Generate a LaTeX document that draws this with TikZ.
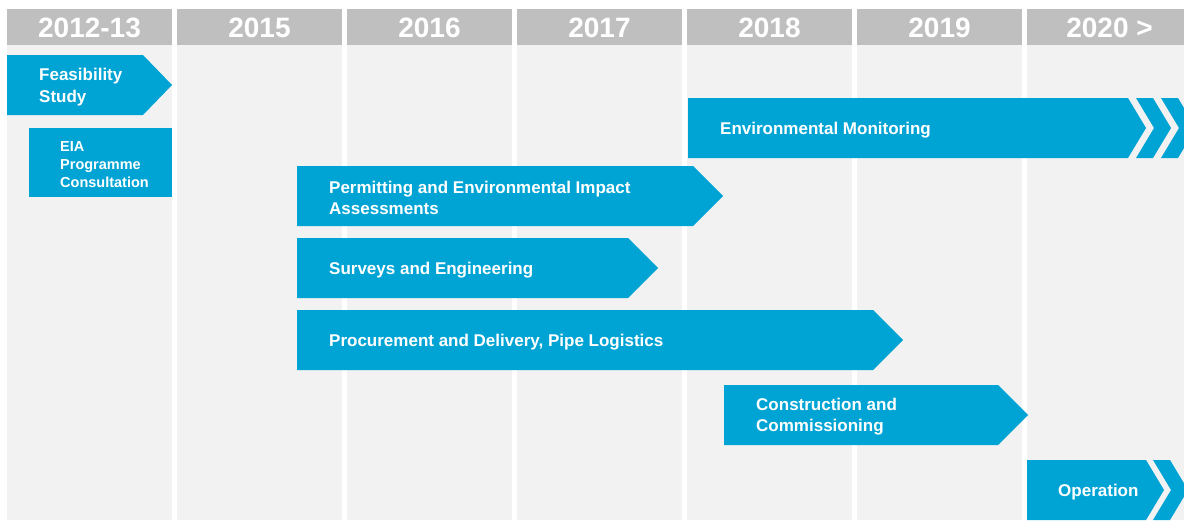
\documentclass[tikz,border=0pt]{standalone}
\usepackage{fontspec}
\setmainfont{Liberation Sans}
\definecolor{barblue}{RGB}{0,164,212}
\definecolor{hdrgray}{RGB}{191,191,191}
\definecolor{colgray}{RGB}{242,242,242}
\begin{document}
\begin{tikzpicture}[x=1pt,y=-1pt,
  bar/.style={fill=barblue,draw=none},
  bartext/.style={text=white,font=\bfseries\fontsize{17}{21}\selectfont,anchor=west,align=left,inner sep=0pt},
  smalltext/.style={bartext,font=\bfseries\fontsize{14.5}{18}\selectfont},
  bigtext/.style={bartext,font=\bfseries\fontsize{17}{22}\selectfont},
  hdr/.style={text=white,font=\bfseries\fontsize{28}{28}\selectfont,inner sep=0pt}]
\useasboundingbox (0,0) rectangle (1184,520);
\begin{scope}
\clip (0,0) rectangle (1184,520);
\fill[white] (0,0) rectangle (1184,520);
\foreach \i/\lab in {0/2012-13,1/2015,2/2016,3/2017,4/2018,5/2019,6/{2020 >}} {
  \fill[colgray] (7+170*\i,45) rectangle (172+170*\i,520);
  \fill[hdrgray] (7+170*\i,9) rectangle (172+170*\i,45);
  \node[hdr] (h\i) at (89.5+170*\i,28) {\lab};
}
% bars
\fill[bar] (7,55) -- (143,55) -- (172,85) -- (143,115) -- (7,115) -- cycle;
\fill[bar] (29,128) rectangle (172,197);
\fill[bar] (688,98) -- (1128,98) -- (1146,128) -- (1128,158) -- (688,158) -- cycle;
\fill[bar] (1136,98) -- (1153,98) -- (1171,128) -- (1153,158) -- (1136,158) -- (1154,128) -- cycle;
\fill[bar] (1161,98) -- (1178,98) -- (1196,128) -- (1178,158) -- (1161,158) -- (1179,128) -- cycle;
\fill[bar] (297,166) -- (693,166) -- (723,196) -- (693,226) -- (297,226) -- cycle;
\fill[bar] (297,238) -- (628,238) -- (658,268) -- (628,298) -- (297,298) -- cycle;
\fill[bar] (297,310) -- (873,310) -- (903,340) -- (873,370) -- (297,370) -- cycle;
\fill[bar] (724,385) -- (998,385) -- (1028,415) -- (998,445) -- (724,445) -- cycle;
\fill[bar] (1027,460) -- (1146,460) -- (1164,490) -- (1146,520) -- (1027,520) -- cycle;
\fill[bar] (1153,460) -- (1170,460) -- (1188,490) -- (1170,520) -- (1153,520) -- (1171,490) -- cycle;
\end{scope}
% texts
\node[bigtext] (feas) at (39,87.5) {Feasibility\\Study};
\node[smalltext] (eia) at (60,164.5) {EIA\\Programme\\Consultation};
\node[bartext] (env) at (720,130) {Environmental Monitoring};
\node[bartext] (perm) at (329,197.5) {Permitting and Environmental Impact\\Assessments};
\node[bartext] (surv) at (329,270) {Surveys and Engineering};
\node[bartext] (proc) at (329,342) {Procurement and Delivery, Pipe Logistics};
\node[bartext] (cons) at (756,417) {Construction and\\Commissioning};
\node[bartext] (oper) at (1058,492) {Operation};
\end{tikzpicture}
\end{document}
